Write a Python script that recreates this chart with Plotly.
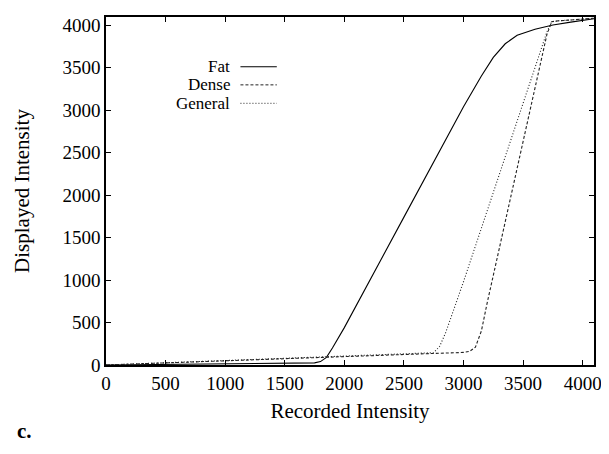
import plotly.graph_objects as go

# Data
fat_x = [0, 500, 1000, 1500, 1750, 1800, 1850, 1900, 2000, 2500, 3000, 3150, 3250, 3350, 3450, 3600, 3750, 3900, 4095]
fat_y = [0, 5, 12, 20, 25, 40, 90, 200, 440, 1740, 3040, 3400, 3620, 3780, 3880, 3950, 4000, 4035, 4075]

dense_x = [0, 500, 1000, 1500, 2000, 2500, 3000, 3050, 3100, 3150, 3200, 3300, 3400, 3500, 3600, 3700, 3740, 3800, 4000, 4095]
dense_y = [0, 25, 50, 75, 100, 125, 148, 160, 210, 400, 740, 1370, 2000, 2630, 3260, 3890, 4040, 4050, 4070, 4080]

general_x = [0, 500, 1000, 1500, 2000, 2500, 2700, 2750, 2800, 2850, 2900, 3000, 3200, 3400, 3600, 3700, 3740, 3800, 4000, 4095]
general_y = [0, 25, 50, 75, 100, 125, 135, 145, 220, 380, 580, 980, 1820, 2660, 3500, 3920, 4040, 4050, 4070, 4080]

series_names = ["Fat", "Dense", "General"]
tick_vals = [0, 500, 1000, 1500, 2000, 2500, 3000, 3500, 4000]

FONT = "Liberation Serif"

fig = go.Figure()
styles = [("solid", "#000000"), ("3px,2px", "#222222"), ("1px,2px", "#222222")]
for name, xs, ys, (dash, col) in zip(series_names, [fat_x, dense_x, general_x],
                                      [fat_y, dense_y, general_y], styles):
    fig.add_trace(go.Scatter(x=xs, y=ys, mode="lines", name=name, showlegend=False,
                             line=dict(color=col, width=1.1, dash=dash)))

axis_common = dict(
    showgrid=False, zeroline=False, showline=True, linecolor="black", linewidth=1.5,
    mirror="ticks", ticks="inside", ticklen=5, tickwidth=1, tickcolor="black",
    tickvals=tick_vals, tickfont=dict(family=FONT, size=19, color="black"),
    ticklabeloverflow="allow",
)
fig.update_xaxes(range=[0, 4095], title=dict(text="Recorded Intensity", font=dict(family=FONT, size=21, color="black"), standoff=11), **axis_common)
fig.update_yaxes(range=[0, 4095], title=dict(text="Displayed Intensity", font=dict(family=FONT, size=21, color="black"), standoff=27), **axis_common)

# Gnuplot-style legend: text right-aligned, sample line on the right
legend_y = [0.857, 0.805, 0.752]
for name, ly, (dash, col) in zip(series_names, legend_y, styles):
    fig.add_annotation(x=0.258, y=ly, xref="paper", yref="paper", text=name, showarrow=False,
                       xanchor="right", yanchor="middle",
                       font=dict(family=FONT, size=17, color="black"))
    fig.add_shape(type="line", xref="paper", yref="paper", x0=0.2755, x1=0.350, y0=ly, y1=ly,
                  line=dict(color=col, width=1, dash=dash))

fig.add_annotation(x=-0.186, y=-0.189, xref="paper", yref="paper", text="<b>c.</b>", showarrow=False,
                   xanchor="left", yanchor="middle", font=dict(family=FONT, size=21, color="black"))

# The page body adds an 8px margin, so the figure is sized/offset to compensate
fig.update_layout(
    width=601, height=446, margin=dict(l=98, r=14, t=7, b=89),
    plot_bgcolor="white", paper_bgcolor="white",
)
fig.write_html("out.html")
